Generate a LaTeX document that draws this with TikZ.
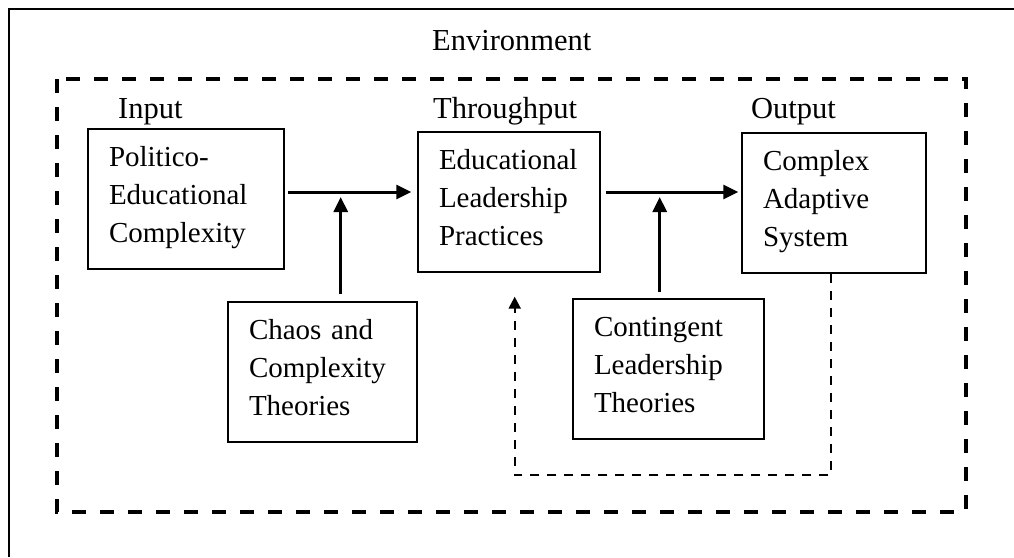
\documentclass[tikz,border=0pt]{standalone}
\usepackage{fontspec}
\setmainfont{Liberation Serif}
\usetikzlibrary{arrows.meta}
% vertical spacer that evens out the space above and below a three-line block
\newcommand{\lnpad}{\rule[-14pt]{0pt}{38pt}}
\begin{document}
\begin{tikzpicture}[x=1pt,y=-1pt,
  stage/.style={draw,line width=1.5pt,align=left,inner xsep=21pt,inner ysep=0pt,
    minimum height=140pt,font=\fontsize{29pt}{38pt}\selectfont},
  lbl/.style={anchor=base west,inner sep=0pt,font=\fontsize{30.5pt}{36pt}\selectfont},
  arr/.style={line width=3pt,-{Triangle[length=15pt,width=14pt]}},
  fbk/.style={line width=2.2pt,dash pattern=on 9pt off 8pt,-{Triangle[length=12pt,width=12pt]}},
  envbox/.style={line width=4pt,dash pattern=on 14pt off 14pt}]
\useasboundingbox (0,0) rectangle (1014,557);

% outer frame
\draw[line width=2pt] (9,557) -- (9,8.5) -- (1014,8.5);

% environment boundary
\draw[envbox] (57,79) rectangle (965.7,511.7);

% labels
\node[lbl] (env) at (432,50) {Environment};
\node[lbl] (lin) at (118,118) {Input};
\node[lbl] (lthr) at (433,118) {Throughput};
\node[lbl] (lout) at (751,118) {Output};

% main boxes
\node[stage,text width=154pt] (b1) at (186,199) {\lnpad Politico-\\Educational\\Complexity\lnpad};
\node[stage,text width=140pt] (b2) at (509,202) {\lnpad Educational\\Leadership\\Practices\lnpad};
\node[stage,text width=142pt] (b3) at (834,203) {\lnpad Complex\\Adaptive\\System\lnpad};
\node[stage,text width=147pt] (chaos) at (322.5,372) {\lnpad Chaos and\\Complexity\\Theories\lnpad};
\node[stage,text width=149pt] (cont) at (668.5,369) {\lnpad Contingent\\Leadership\\Theories\lnpad};

% flow line and junctions
\coordinate (row) at (0,192);
\coordinate (j1) at (340.7,192);
\coordinate (j2) at (659.7,192);

\draw[arr,shorten <=3pt,shorten >=6pt] (b1.east |- row) -- (b2.west |- row);
\draw[arr,shorten <=5pt,shorten >=3pt] (b2.east |- row) -- (b3.west |- row);
\draw[arr,shorten <=7pt,shorten >=5pt] (chaos.north -| j1) -- (j1);
\draw[arr,shorten <=6pt,shorten >=5pt] (cont.north -| j2) -- (j2);

% feedback loop
\coordinate (fbA) at (831,475);
\coordinate (fbB) at (514.7,475);
\coordinate (fbEnd) at (514.7,296.7);
\draw[fbk] (b3.south -| fbA) -- (fbA) -- (fbB) -- (fbEnd);
\end{tikzpicture}
\end{document}
